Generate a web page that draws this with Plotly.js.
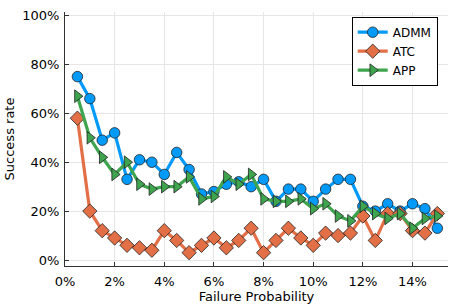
<!DOCTYPE html>
<html>
<head>
<meta charset="utf-8">
<script src="https://cdn.plot.ly/plotly-3.0.1.min.js"></script>
<style>html,body{margin:0;padding:0;background:#fff}#chart{width:457px;height:305px}</style>
</head>
<body>
<div id="chart"></div>
<script>
// Failure probability (%)
const failureProb = [0.5,1,1.5,2,2.5,3,3.5,4,4.5,5,5.5,6,6.5,7,7.5,8,8.5,9,9.5,10,10.5,11,11.5,12,12.5,13,13.5,14,14.5,15];
// Success rate (%)
const admm = [75,66,49,52,33,41,40,35,44,37,27,28,31,32,30,33,24,29,29,24,29,33,33,22,20,23,20,23,21,13];
const atc  = [58,20,12,9,6,5,4,12,8,3,6,9,5,8,13,3,8,13,9,6,11,10,11,18,8,19,19,12,11,19];
const app  = [67,50,42,35,40,31,29,30,30,34,25,26,34,31,35,25,24,24,25,21,23,18,16,22,19,17,19,13,17,18];
const seriesNames = ['ADMM','ATC','APP'];
const xTicks = [0,2,4,6,8,10,12,14];
const yTicks = [0,20,40,60,80,100];

const pct = a => a.map(v => v/100);
const colors = ['#009AFA','#E36F47','#3EA44E'];
const symbols = ['circle','diamond','triangle-right'];
const sizes = [10.5,11,11];
const data = [admm, atc, app].map((ys,i) => ({
  x: pct(failureProb), y: pct(ys), name: seriesNames[i], type:'scatter', mode:'lines+markers',
  line:{color:colors[i], width:3.2},
  marker:{symbol:symbols[i], size:sizes[i], color:colors[i], line:{color:'#222', width:0.8}}
}));

const FF = 'DejaVu Sans, sans-serif';
const layout = {
  width:457, height:305,
  margin:{l:65, r:9, t:12, b:39},
  paper_bgcolor:'#fff', plot_bgcolor:'#fff',
  font:{family:FF, size:12, color:'#000'},
  showlegend:true,
  legend:{x:0.7486, y:0.9815, xanchor:'left', yanchor:'top', bgcolor:'#fff', bordercolor:'#000', borderwidth:1,
    font:{family:FF, size:12, color:'#000'}, tracegroupgap:0, itemwidth:30},
  xaxis:{
    range:[0,0.1543], tickvals:pct(xTicks), tickformat:'.0%',
    showgrid:true, gridcolor:'#e6e6e6', gridwidth:1, zeroline:false,
    showline:true, linecolor:'#333', linewidth:1, mirror:false,
    ticks:'inside', ticklen:4, tickcolor:'#333', ticklabelstandoff:3,
    tickfont:{family:FF, size:13, color:'#000'},
    title:{text:'Failure Probability', font:{family:FF, size:13, color:'#000'}, standoff:4}
  },
  yaxis:{
    range:[-0.0245,1.0143], tickvals:pct(yTicks), tickformat:'.0%',
    showgrid:true, gridcolor:'#e6e6e6', gridwidth:1, zeroline:false,
    showline:true, linecolor:'#333', linewidth:1, mirror:false,
    ticks:'inside', ticklen:4, tickcolor:'#333', ticklabelstandoff:2,
    tickfont:{family:FF, size:13, color:'#000'},
    title:{text:'Success rate', font:{family:FF, size:13, color:'#000'}, standoff:4}
  }
};
Plotly.newPlot('chart', data, layout, {staticPlot:true, displayModeBar:false});
</script>
</body>
</html>
